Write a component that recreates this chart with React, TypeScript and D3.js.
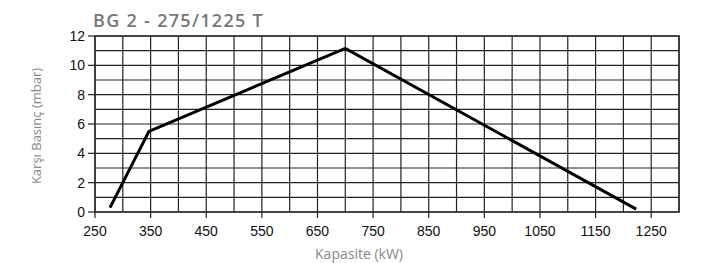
import React from 'react';
import * as d3 from 'd3';

const title = 'BG 2 - 275/1225 T';
const xLabel = 'Kapasite (kW)';
const yLabel = 'Karşı Basınç (mbar)';

const capacity = [277, 347, 700, 1223];
const pressure = [0.3, 5.5, 11.15, 0.2];

const xTicks = [250, 350, 450, 550, 650, 750, 850, 950, 1050, 1150, 1250];
const yTicks = [0, 2, 4, 6, 8, 10, 12];
const xGrid = d3.range(250, 1301, 50);
const yGrid = d3.range(0, 13, 1);

const W = 707;
const H = 263;
const margin = { top: 36, right: 28, bottom: 51, left: 95 };

export default function App() {
  const x = d3.scaleLinear().domain([250, 1300]).range([margin.left, W - margin.right]);
  const y = d3.scaleLinear().domain([0, 12]).range([H - margin.bottom, margin.top]);

  const line = d3.line<number>()
    .x((_, i) => x(capacity[i]))
    .y(d => y(d));

  const x0 = x(250);
  const x1 = x(1300);
  const y0 = y(0);
  const y1 = y(12);

  return (
    <svg width={W} height={H} style={{ position: 'absolute', left: 0, top: 0 }}>
      <rect width={W} height={H} fill="#fff" />
      <text x={93} y={27} fontFamily="'Open Sans', sans-serif" fontWeight={600} fontSize={18} letterSpacing={1.3} fill="#777">
        {title}
      </text>

      {/* grid */}
      {xGrid.map(v => (
        <line key={'gx' + v} x1={x(v)} x2={x(v)} y1={y1} y2={y0} stroke="#222" strokeWidth={1.2} />
      ))}
      {yGrid.map(v => (
        <line key={'gy' + v} x1={x0} x2={x1} y1={y(v)} y2={y(v)} stroke="#222" strokeWidth={1.2} />
      ))}
      <rect x={x0} y={y1} width={x1 - x0} height={y0 - y1} fill="none" stroke="#333" strokeWidth={1.6} />

      {/* ticks */}
      {yTicks.map(v => (
        <g key={'ty' + v}>
          <line x1={x0 - 7} x2={x0} y1={y(v)} y2={y(v)} stroke="#222" strokeWidth={1.2} />
          <text x={85} y={y(v)} dy="0.35em" textAnchor="end" fontFamily="'Liberation Sans', Arial, sans-serif" fontSize={14} fill="#111">
            {v}
          </text>
        </g>
      ))}
      {xTicks.map(v => (
        <g key={'tx' + v}>
          <line x1={x(v)} x2={x(v)} y1={y0} y2={y0 + 6} stroke="#222" strokeWidth={1.2} />
          <text x={x(v)} y={236} textAnchor="middle" fontFamily="'Liberation Sans', Arial, sans-serif" fontSize={14} fill="#111">
            {v}
          </text>
        </g>
      ))}

      <path d={line(pressure) || ''} fill="none" stroke="#000" strokeWidth={3} strokeLinejoin="miter" />

      <text x={359} y={259} textAnchor="middle" fontFamily="'Open Sans', sans-serif" fontSize={14} fill="#888">
        {xLabel}
      </text>
      <text transform={`translate(41,${(y0 + y1) / 2 + 2}) rotate(-90)`} textAnchor="middle" fontFamily="'Open Sans', sans-serif" fontSize={13} fill="#888">
        {yLabel}
      </text>
    </svg>
  );
}
